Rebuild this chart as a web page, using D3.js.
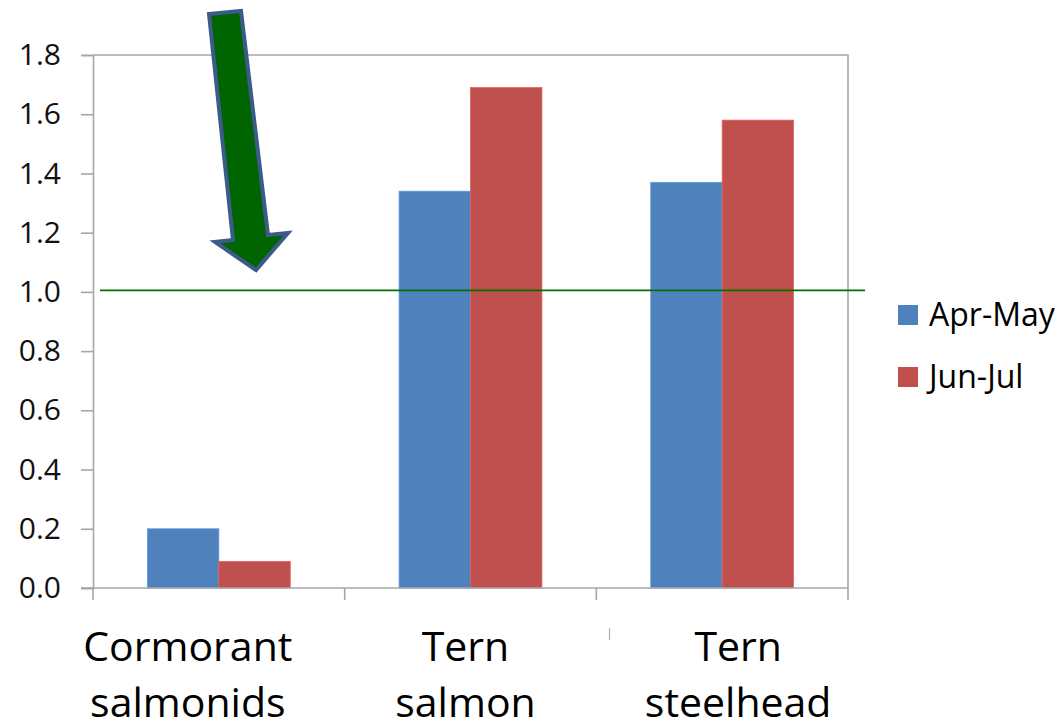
<!DOCTYPE html>
<html>
<head>
<meta charset="utf-8">
<script src="https://cdn.jsdelivr.net/npm/d3@7/dist/d3.min.js"></script>
<style>
  html, body { margin: 0; padding: 0; background: #ffffff; }
  svg { display: block; font-family: "Open Sans", "Noto Sans", sans-serif; }
</style>
</head>
<body>
<svg id="chart" width="1061" height="723"></svg>
<script>
// Chart data
const categories = [["Cormorant", "salmonids"], ["Tern", "salmon"], ["Tern", "steelhead"]];
const seriesNames = ["Apr-May", "Jun-Jul"];
const aprMay = [0.20, 1.34, 1.37];
const junJul = [0.09, 1.69, 1.58];
const yTicks = [0.0, 0.2, 0.4, 0.6, 0.8, 1.0, 1.2, 1.4, 1.6, 1.8];
const referenceLevel = 1.0;
const seriesColors = ["#4f81bd", "#c0504d"];

const svg = d3.select("#chart");

const plot = { left: 93, right: 848, top: 55, bottom: 588 };
const axisColor = "#a6a6a6";

const x0 = d3.scaleBand()
  .domain(d3.range(categories.length))
  .range([plot.left, plot.right])
  .paddingInner(0).paddingOuter(0);

const x1 = d3.scaleBand()
  .domain(seriesNames)
  .range([0, x0.bandwidth()])
  .paddingInner(0).paddingOuter(0.762);

const y = d3.scaleLinear()
  .domain([0, 1.8])
  .range([plot.bottom, plot.top]);

// Plot frame (top and right edges)
svg.append("path")
  .attr("d", `M${plot.left},${plot.top}H${plot.right}V${plot.bottom}`)
  .attr("fill", "none")
  .attr("stroke", axisColor)
  .attr("stroke-width", 1.6);

// Bars
const rows = categories.map((c, i) => ({ i, values: [aprMay[i], junJul[i]] }));
const groups = svg.append("g").selectAll("g")
  .data(rows).join("g")
  .attr("transform", d => `translate(${x0(d.i)},0)`);

groups.selectAll("rect")
  .data(d => d.values.map((v, k) => ({ v, k })))
  .join("rect")
  .attr("x", d => x1(seriesNames[d.k]))
  .attr("width", x1.bandwidth())
  .attr("y", d => y(d.v))
  .attr("height", d => y(0) - y(d.v))
  .attr("fill", d => seriesColors[d.k])
  .attr("stroke", d => d3.color(seriesColors[d.k]).brighter(0.5))
  .attr("stroke-width", 0.8);

// Left axis
const yAxis = d3.axisLeft(y)
  .tickValues(yTicks)
  .tickSize(12)
  .tickPadding(20)
  .tickFormat(d3.format(".1f"));

const gy = svg.append("g")
  .attr("transform", `translate(${plot.left},0)`)
  .call(yAxis);
gy.select(".domain").attr("stroke", axisColor).attr("stroke-width", 1.6);
gy.selectAll(".tick line").attr("stroke", axisColor).attr("stroke-width", 1.6);
gy.selectAll(".tick text")
  .attr("font-size", 30)
  .attr("font-family", "'Open Sans', sans-serif")
  .attr("fill", "#111");

// Bottom axis line and category boundary ticks
svg.append("line")
  .attr("x1", plot.left - 12).attr("x2", plot.right)
  .attr("y1", y(0)).attr("y2", y(0))
  .attr("stroke", axisColor).attr("stroke-width", 1.6);

const boundaries = d3.range(categories.length + 1)
  .map(i => i < categories.length ? x0(i) : x0(i - 1) + x0.bandwidth());
svg.append("g").selectAll("line")
  .data(boundaries).join("line")
  .attr("x1", d => d).attr("x2", d => d)
  .attr("y1", y(0)).attr("y2", y(0) + 12)
  .attr("stroke", axisColor).attr("stroke-width", 1.6);

// Category labels (two lines each)
const labelShift = [-31, -5, 16];
const catLabels = svg.append("g").selectAll("text")
  .data(categories).join("text")
  .attr("x", (d, i) => x0(i) + x0.bandwidth() / 2 + labelShift[i])
  .attr("y", 661)
  .attr("text-anchor", "middle")
  .attr("font-size", 41)
  .attr("fill", "#000");
catLabels.selectAll("tspan")
  .data(d => d).join("tspan")
  .attr("x", function () { return d3.select(this.parentNode).attr("x"); })
  .attr("dy", (d, j) => j === 0 ? 0 : 56)
  .text(d => d);

// Small stray mark below the axis
svg.append("line")
  .attr("x1", 609.5).attr("x2", 609.5)
  .attr("y1", 628).attr("y2", 640)
  .attr("stroke", "#b0b0b0").attr("stroke-width", 1.2);

// Reference line at 1.0
svg.append("line")
  .attr("x1", plot.left + 7).attr("x2", plot.right + 17)
  .attr("y1", y(referenceLevel) - 1.5).attr("y2", y(referenceLevel) - 1.5)
  .attr("stroke", "#007000").attr("stroke-width", 1.6);

// Callout arrow pointing at the cormorant group
const arrowPts = [[209, 14], [241, 11], [268, 235], [288, 233], [256, 270], [215, 242], [233, 240]];
svg.append("path")
  .attr("d", d3.line()(arrowPts) + "Z")
  .attr("fill", "#006400")
  .attr("stroke", "#3b5b8a")
  .attr("stroke-width", 4)
  .attr("stroke-linejoin", "miter");

// Legend
const legend = svg.append("g").selectAll("g")
  .data(seriesNames).join("g")
  .attr("transform", (d, i) => `translate(898,${305 + i * 62})`);
legend.append("rect")
  .attr("width", 20).attr("height", 20)
  .attr("fill", (d, i) => seriesColors[i]);
legend.append("text")
  .attr("x", 31).attr("y", 21)
  .attr("font-size", 32)
  .attr("fill", "#000")
  .text(d => d);
</script>
</body>
</html>
